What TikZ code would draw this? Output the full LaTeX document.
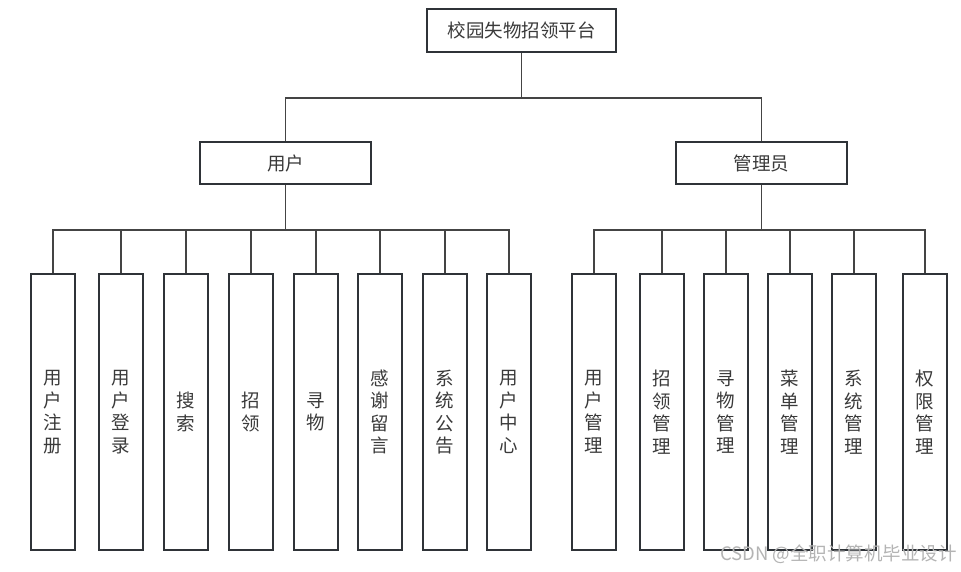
\documentclass[tikz,border=0pt]{standalone}
\usepackage{fontspec}
\newfontfamily\cjk{Noto Sans CJK SC}
\definecolor{boxline}{HTML}{2F3338}
\definecolor{conline}{HTML}{444444}
\definecolor{txt}{HTML}{3A3A3A}
\definecolor{wm}{HTML}{B4B4B4}
\begin{document}
\begin{tikzpicture}[x=1pt,y=1pt,
  box/.style={draw=boxline,line width=1.8pt,fill=white,inner sep=0pt,text=txt,font=\cjk\fontsize{18.5}{22.5}\selectfont},
  topbox/.style={box,minimum width=189pt,minimum height=43pt},
  midbox/.style={box,minimum width=171pt,minimum height=42pt},
  leaf/.style={box,minimum width=44pt,minimum height=276pt,align=center},
  con/.style={draw=conline,line width=1.6pt}]
\useasboundingbox (0,0) rectangle (961,-572);
\fill[white] (0,0) rectangle (961,-572);
\node[topbox] (top) at (521.5,-30.5) {校园失物招领平台};
\node[midbox] (user) at (285.5,-163) {用户};
\node[midbox] (admin) at (761.5,-163) {管理员};
% user leaves
\node[leaf] (u1) at (53,-412) {用\\户\\注\\册};
\node[leaf] (u2) at (121,-412) {用\\户\\登\\录};
\node[leaf] (u3) at (186,-412) {搜\\索};
\node[leaf] (u4) at (251,-412) {招\\领};
\node[leaf] (u5) at (316,-412) {寻\\物};
\node[leaf] (u6) at (380,-412) {感\\谢\\留\\言};
\node[leaf] (u7) at (445,-412) {系\\统\\公\\告};
\node[leaf] (u8) at (509,-412) {用\\户\\中\\心};
% admin leaves
\node[leaf] (a1) at (594,-412) {用\\户\\管\\理};
\node[leaf] (a2) at (662,-412) {招\\领\\管\\理};
\node[leaf] (a3) at (726,-412) {寻\\物\\管\\理};
\node[leaf] (a4) at (790,-412) {菜\\单\\管\\理};
\node[leaf] (a5) at (854,-412) {系\\统\\管\\理};
\node[leaf] (a6) at (925,-412) {权\\限\\管\\理};
% connectors
\foreach \c in {user,admin} \draw[con] (top.south) -- ++(0,-45) -| (\c.north);
\foreach \c in {u1,u2,u3,u4,u5,u6,u7,u8} \draw[con] (user.south) -- ++(0,-45) -| (\c.north);
\foreach \c in {a1,a2,a3,a4,a5,a6} \draw[con] (admin.south) -- ++(0,-45) -| (\c.north);
\node[anchor=east,text=wm,inner sep=0pt,font=\cjk\fontsize{18.5}{20}\selectfont] (wmark) at (957,-554) {CSDN @全职计算机毕业设计};
\end{tikzpicture}
\end{document}
